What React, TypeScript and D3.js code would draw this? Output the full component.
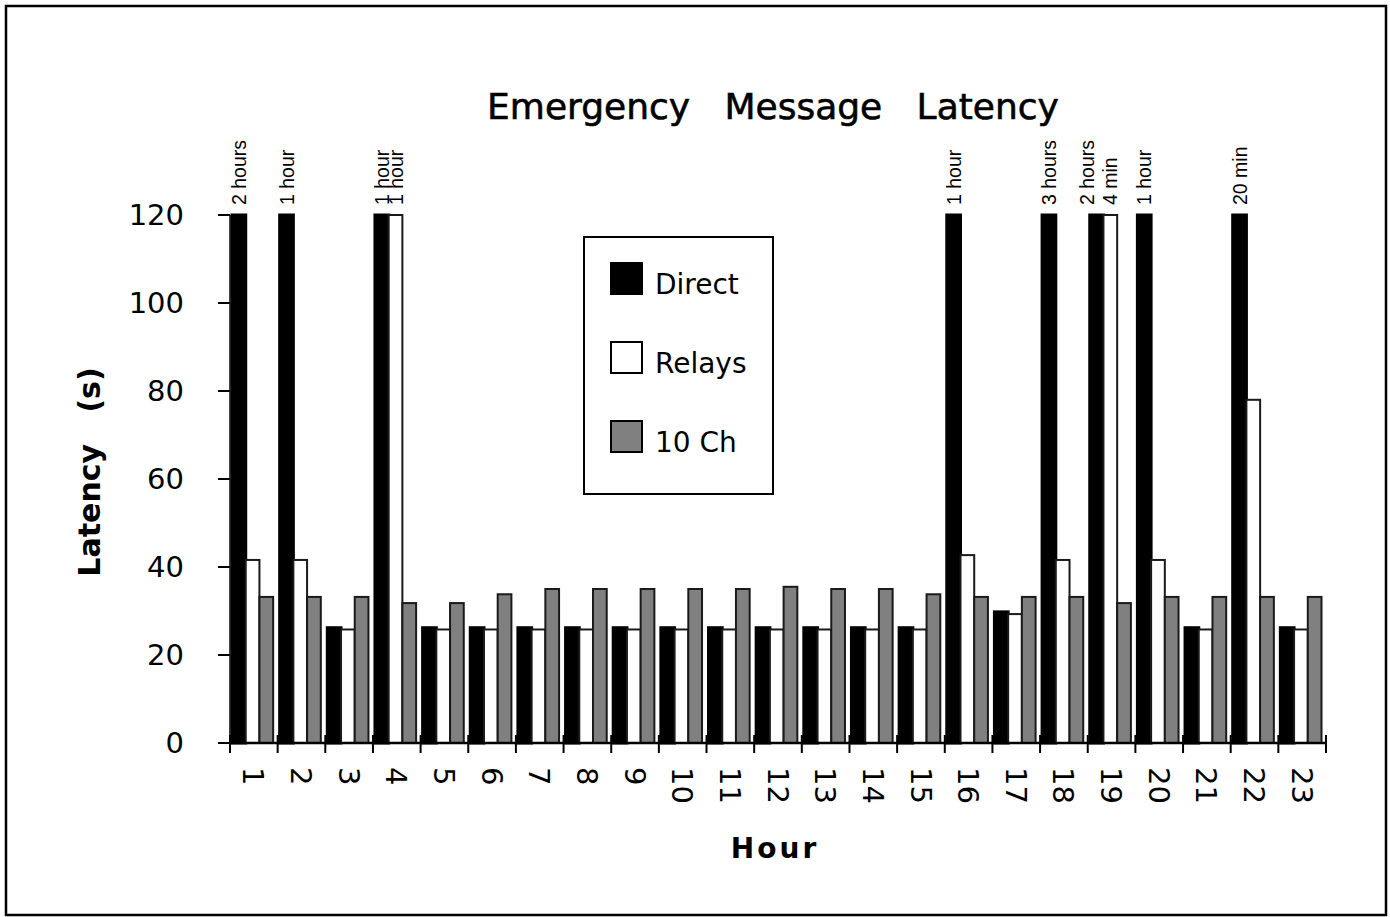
import React from "react";
import * as d3 from "d3";

const hours: string[] = Array.from({ length: 23 }, (_, i) => String(i + 1));
const seriesNames: string[] = ["Direct", "Relays", "10 Ch"];
// latency in seconds (values above 120 are clipped and annotated)
const direct: number[] = [7200, 3600, 26.2, 3600, 26.2, 26.2, 26.2, 26.2, 26.2, 26.2, 26.2, 26.2, 26.2, 26.2, 26.2, 3600, 29.8, 10800, 7200, 3600, 26.2, 1200, 26.2];
const relays: number[] = [41.6, 41.6, 25.8, 3600, 25.8, 25.8, 25.8, 25.8, 25.8, 25.8, 25.8, 25.8, 25.8, 25.8, 25.8, 42.7, 29.3, 41.6, 240, 41.6, 25.8, 78, 25.8];
const tenCh: number[] = [33.2, 33.2, 33.2, 31.8, 31.8, 33.8, 35, 35, 35, 35, 35, 35.5, 35, 35, 33.8, 33.2, 33.2, 33.2, 31.8, 33.2, 33.2, 33.2, 33.2];
const yTicks: number[] = [0, 20, 40, 60, 80, 100, 120];

const seriesValues = [direct, relays, tenCh];
const fills = ["#000000", "#ffffff", "#808080"];

function fmtLong(s: number): string {
  if (s >= 3600) {
    const h = Math.round(s / 3600);
    return `${h} ${h === 1 ? "hour" : "hours"}`;
  }
  return `${Math.round(s / 60)} min`;
}

const FONT = "'DejaVu Sans', Verdana, sans-serif";
const LFONT = "'Liberation Sans', Arial, sans-serif";

export default function App() {
  const W = 1390, H = 917;
  const left = 230, right = 1326, top = 215, bottom = 743;
  const yMax = 120;

  const x0 = d3.scaleBand<string>().domain(hours).range([left, right]).paddingInner(0).paddingOuter(0);
  const bw = x0.bandwidth();
  const x1 = d3.scaleBand<string>().domain(seriesNames).range([2, bw - 4.5]).paddingInner(0);
  const y = d3.scaleLinear().domain([0, yMax]).range([bottom, top]).clamp(true);

  const boundaries = hours.map((h) => x0(h) as number).concat([right]);

  // annotation labels for clipped bars
  const labels: { key: string; cx: number; text: string }[] = [];
  hours.forEach((h, hi) => {
    const inCat: { key: string; cx: number; text: string }[] = [];
    seriesNames.forEach((s, si) => {
      const v = seriesValues[si][hi];
      if (v > yMax) {
        inCat.push({ key: s + h, cx: (x0(h) as number) + (x1(s) as number) + x1.bandwidth() / 2, text: fmtLong(v) });
      }
    });
    for (let i = 0; i < inCat.length - 1; i++) {
      if (inCat[i].text !== inCat[i + 1].text) inCat[i].cx -= 10;
    }
    labels.push(...inCat);
  });

  return (
    <svg width={W} height={H} style={{ position: "absolute", left: 0, top: 0, background: "#fff" }}>
      <rect x={6} y={6} width={1380} height={909} fill="#fff" stroke="#000" strokeWidth={2.5} />

      <text x={773} y={119} textAnchor="middle" fontFamily={FONT} fontSize={36} stroke="#000" strokeWidth={0.6}
        style={{ whiteSpace: "pre" }} xmlSpace="preserve" fill="#000">
        {"Emergency   Message   Latency"}
      </text>

      {/* bars */}
      {seriesNames.map((s, si) => (
        <g key={s}>
          {hours.map((h, hi) => {
            const v = seriesValues[si][hi];
            const bx = (x0(h) as number) + (x1(s) as number);
            const by = y(v);
            return (
              <rect key={h} x={bx} y={by} width={x1.bandwidth()} height={bottom - by}
                fill={fills[si]} stroke={si === 0 ? "#000" : "#1a1a1a"} strokeWidth={si === 0 ? 3 : 2} />
            );
          })}
        </g>
      ))}

      {labels.map((l) => (
        <text key={l.key} transform={`translate(${l.cx},205) rotate(-90)`} dy="0.36em"
          fontFamily={LFONT} fontSize={19.5} fill="#000">
          {l.text}
        </text>
      ))}

      {/* y axis */}
      <line x1={left} x2={left} y1={top} y2={bottom} stroke="#000" strokeWidth={1.5} />
      {yTicks.map((t) => (
        <g key={t}>
          <line x1={218} x2={left} y1={y(t)} y2={y(t)} stroke="#000" strokeWidth={2} />
          <text x={184} y={y(t)} dy="0.36em" textAnchor="end" fontFamily={FONT} fontSize={29} fill="#000">
            {t}
          </text>
        </g>
      ))}

      {/* x axis */}
      <line x1={left} x2={right} y1={bottom} y2={bottom} stroke="#000" strokeWidth={2.5} />
      {boundaries.map((bx, i) => (
        <line key={i} x1={bx} x2={bx} y1={735} y2={753} stroke="#000" strokeWidth={2} />
      ))}
      {hours.map((h) => (
        <text key={h} transform={`translate(${(x0(h) as number) + bw / 2},${767}) rotate(90)`} dy="0.36em"
          fontFamily={FONT} fontSize={29} fill="#000">
          {h}
        </text>
      ))}

      {/* axis titles */}
      <text x={775} y={858} textAnchor="middle" fontFamily={FONT} fontWeight="bold" fontSize={28} letterSpacing={3} fill="#000">
        Hour
      </text>
      <text transform={`translate(100,472) rotate(-90)`} textAnchor="middle" fontFamily={FONT} fontWeight="bold" fontSize={30}
        style={{ whiteSpace: "pre" }} xmlSpace="preserve" fill="#000">
        {"Latency   (s)"}
      </text>

      {/* legend */}
      <rect x={584} y={237} width={189} height={257} fill="#fff" stroke="#000" strokeWidth={2} />
      {seriesNames.map((s, si) => (
        <g key={s} transform={`translate(611,${263 + si * 79})`}>
          <rect x={0} y={0} width={31} height={31} fill={fills[si]} stroke="#000" strokeWidth={2} />
          <text x={44} y={31} fontFamily={FONT} fontSize={28} fill="#000">{s}</text>
        </g>
      ))}
    </svg>
  );
}
